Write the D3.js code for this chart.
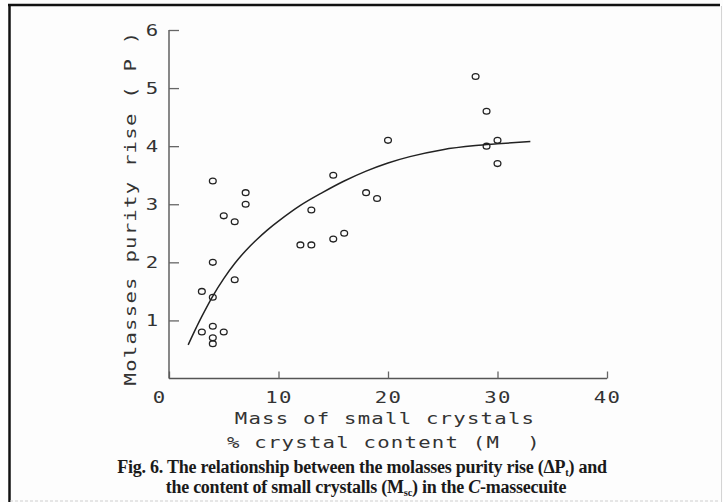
<!DOCTYPE html>
<html>
<head>
<meta charset="utf-8">
<script src="https://cdn.jsdelivr.net/npm/d3@7"></script>
<style>
  html, body { margin: 0; padding: 0; background: #fdfdfd; }
  svg { display: block; }
  .mono {
    font-family: "DejaVu Sans Mono", "Liberation Mono", monospace; fill: #333;
    font-size: 16.5px; letter-spacing: 1px; white-space: pre;
    transform-box: fill-box; transform-origin: center; transform: scaleX(1.25);
  }
  .cap { font-family: "Liberation Serif", "Times New Roman", serif; font-weight: bold; fill: #1a1a1a;
         font-size: 18px; letter-spacing: -0.25px; }
</style>
</head>
<body>
<svg id="chart" width="723" height="502"></svg>
<script>
// Measured points: small-crystal mass (% of crystal content) vs molasses purity rise
const massSmall = [28, 29, 29, 30, 30, 20, 15, 18, 19, 13, 12, 13, 15, 16,
                   4, 7, 7, 5, 6, 4, 6, 3, 4, 4, 3, 5, 4, 4];
const purityRise = [5.2, 4.6, 4.0, 4.1, 3.7, 4.1, 3.5, 3.2, 3.1, 2.9, 2.3, 2.3, 2.4, 2.5,
                    3.4, 3.2, 3.0, 2.8, 2.7, 2.0, 1.7, 1.5, 1.4, 0.9, 0.8, 0.8, 0.7, 0.6];

// Fitted saturation curve, sampled along its length
const curveX = [1.75, 2.5, 3, 4, 5, 6, 7, 8, 9, 10, 12, 14, 16, 18, 20, 22, 25, 28, 30, 33];
const curveY = [0.58, 0.88, 1.07, 1.42, 1.72, 1.98, 2.2, 2.39, 2.56, 2.71, 2.98, 3.2, 3.4, 3.57,
                3.71, 3.82, 3.94, 4.01, 4.04, 4.08];

const xTicks = [0, 10, 20, 30, 40];
const yTicks = [1, 2, 3, 4, 5, 6];

const svg = d3.select("#chart");

// page frame
svg.append("line").attr("x1", 8).attr("x2", 720).attr("y1", 5).attr("y2", 5)
  .attr("stroke", "#111").attr("stroke-width", 2.5);
svg.append("line").attr("x1", 9.5).attr("x2", 9.5).attr("y1", 4).attr("y2", 502)
  .attr("stroke", "#111").attr("stroke-width", 2.5);
svg.append("line").attr("x1", 721.5).attr("x2", 721.5).attr("y1", 6).attr("y2", 502)
  .attr("stroke", "#d4d4d4").attr("stroke-width", 1);
svg.append("line").attr("x1", 10).attr("x2", 720).attr("y1", 501).attr("y2", 501)
  .attr("stroke", "#cfcfcf").attr("stroke-width", 1).attr("stroke-dasharray", "3 2");

const x = d3.scaleLinear().domain([0, 40]).range([169, 607]);
const y = d3.scaleLinear().domain([0, 6]).range([378.5, 30]);

// x axis, ticks pointing up into the plot
const gx = svg.append("g").attr("transform", `translate(0,${y(0)})`)
  .call(d3.axisBottom(x).tickValues(xTicks).tickSizeInner(-7).tickSizeOuter(0).tickPadding(13)
    .tickFormat(d3.format("d")));
// y axis, ticks pointing right into the plot
const gy = svg.append("g").attr("transform", `translate(${x(0)},0)`)
  .call(d3.axisLeft(y).tickValues(yTicks).tickSizeInner(-10).tickSizeOuter(0).tickPadding(12)
    .tickFormat(d3.format("d")));

[gx, gy].forEach(g => {
  g.attr("font-size", null).attr("font-family", null);
  g.select(".domain").attr("stroke", "#555").attr("stroke-width", 1.4);
  g.selectAll(".tick line").attr("stroke", "#666").attr("stroke-width", 1.3);
  g.selectAll(".tick text").attr("class", "mono").attr("fill", "#333");
});
gx.selectAll(".tick").filter(d => d === 0).select("text").attr("dx", -10);
gy.selectAll(".tick text").attr("dx", 1);
// the y-axis starts at the corner and ends at the top tick
gy.select(".domain").attr("d", `M0,${y(0)}V${y(6)}`);
gx.select(".domain").attr("d", `M0,0H${x(40) - x(0)}`).attr("transform", `translate(${x(0)},0)`);

// axis titles
svg.append("text").attr("class", "mono")
  .attr("x", 385).attr("y", 424).attr("text-anchor", "middle")
  .text("Mass of small crystals");
svg.append("text").attr("class", "mono")
  .attr("x", 384).attr("y", 448).attr("text-anchor", "middle")
  .text("% crystal content (M  )");
svg.append("g").attr("transform", "translate(136,208) rotate(-90)")
  .append("text").attr("class", "mono").attr("text-anchor", "middle")
  .text("Molasses purity rise ( P )");

// fitted curve
const line = d3.line().x(d => x(d[0])).y(d => y(d[1])).curve(d3.curveCatmullRom.alpha(0.5));
svg.append("path")
  .datum(d3.zip(curveX, curveY))
  .attr("d", line)
  .attr("fill", "none").attr("stroke", "#222").attr("stroke-width", 1.5);

// observations
svg.append("g").selectAll("ellipse")
  .data(d3.zip(massSmall, purityRise))
  .join("ellipse")
  .attr("cx", d => x(d[0])).attr("cy", d => y(d[1]))
  .attr("rx", 3.4).attr("ry", 2.9)
  .attr("fill", "none").attr("stroke", "#222").attr("stroke-width", 1.3);

// caption, two centred lines with subscripts
const cap1 = svg.append("text").attr("class", "cap")
  .attr("x", 362).attr("y", 473).attr("text-anchor", "middle");
cap1.append("tspan").text("Fig. 6. The relationship between the molasses purity rise (ΔP");
cap1.append("tspan").attr("dy", 2.5).style("font-size", "10.5px").text("t");
cap1.append("tspan").attr("dy", -2.5).text(") and");

const cap2 = svg.append("text").attr("class", "cap")
  .attr("x", 366).attr("y", 493).attr("text-anchor", "middle");
cap2.append("tspan").text("the content of small crystalls (M");
cap2.append("tspan").attr("dy", 2.5).style("font-size", "10.5px").text("sc");
cap2.append("tspan").attr("dy", -2.5).text(") in the ");
cap2.append("tspan").style("font-style", "italic").text("C");
cap2.append("tspan").text("-massecuite");
</script>
</body>
</html>
